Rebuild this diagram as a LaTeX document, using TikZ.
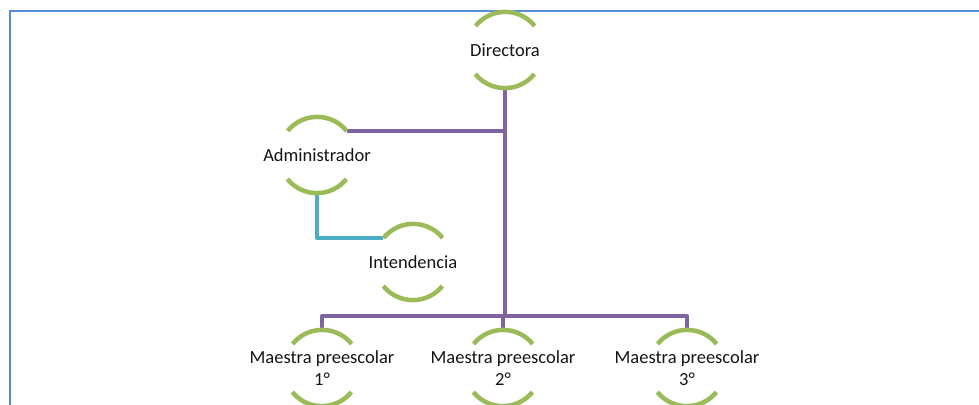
\documentclass[tikz,border=0pt]{standalone}
\usepackage{fontspec}
\setmainfont{Carlito}
\definecolor{arcgreen}{HTML}{9BBB59}
\definecolor{linepurple}{HTML}{8064A2}
\definecolor{lineblue}{HTML}{4BACC6}
\definecolor{frameblue}{HTML}{558ED5}
\begin{document}
\begin{tikzpicture}[x=1pt,y=-1pt,
  orgnode/.style={circle,minimum size=76pt,inner sep=0pt,
    label={[orgtext]center:#1}},
  orgtext/.style={align=center,font=\fontsize{18.5}{22}\selectfont,text=black!92,inner sep=0pt},
  arcline/.style={draw=arcgreen,line width=4.5pt},
  purpleline/.style={draw=linepurple,line width=4pt,line join=round},
  blueline/.style={draw=lineblue,line width=4pt,line join=round},
]
\useasboundingbox (0,0) rectangle (979,404);
\draw[frameblue,line width=2pt] (9.5,405) -- (9.5,11.5) -- (980,11.5);

\node[orgnode={Directora}] (dir) at (505,50) {};
\node[orgnode={Administrador}] (adm) at (317,155) {};
\node[orgnode={Intendencia}] (int) at (413,262) {};
\node[orgnode={Maestra preescolar\\1°}] (m1) at (322,368) {};
\node[orgnode={Maestra preescolar\\2°}] (m2) at (503,368) {};
\node[orgnode={Maestra preescolar\\3°}] (m3) at (687,368) {};
\coordinate (bus) at (0,316);

\draw[purpleline] (dir.south) -- (dir.south |- bus);
\draw[purpleline] (m1.north) -- (m1.north |- bus) -- (m3.north |- bus) -- (m3.north);
\draw[purpleline] (m2.north) -- (m2.north |- bus);
\draw[purpleline] (adm.39) -- (adm.39 -| dir.south);
\draw[blueline] (adm.south) |- (int.141);

\foreach \n in {dir,adm,int,m1,m2,m3}{
  \draw[arcline] (\n.39) arc[start angle=39,end angle=141,radius=38pt];
  \draw[arcline] (\n.219) arc[start angle=219,end angle=321,radius=38pt];
}
\end{tikzpicture}
\end{document}
